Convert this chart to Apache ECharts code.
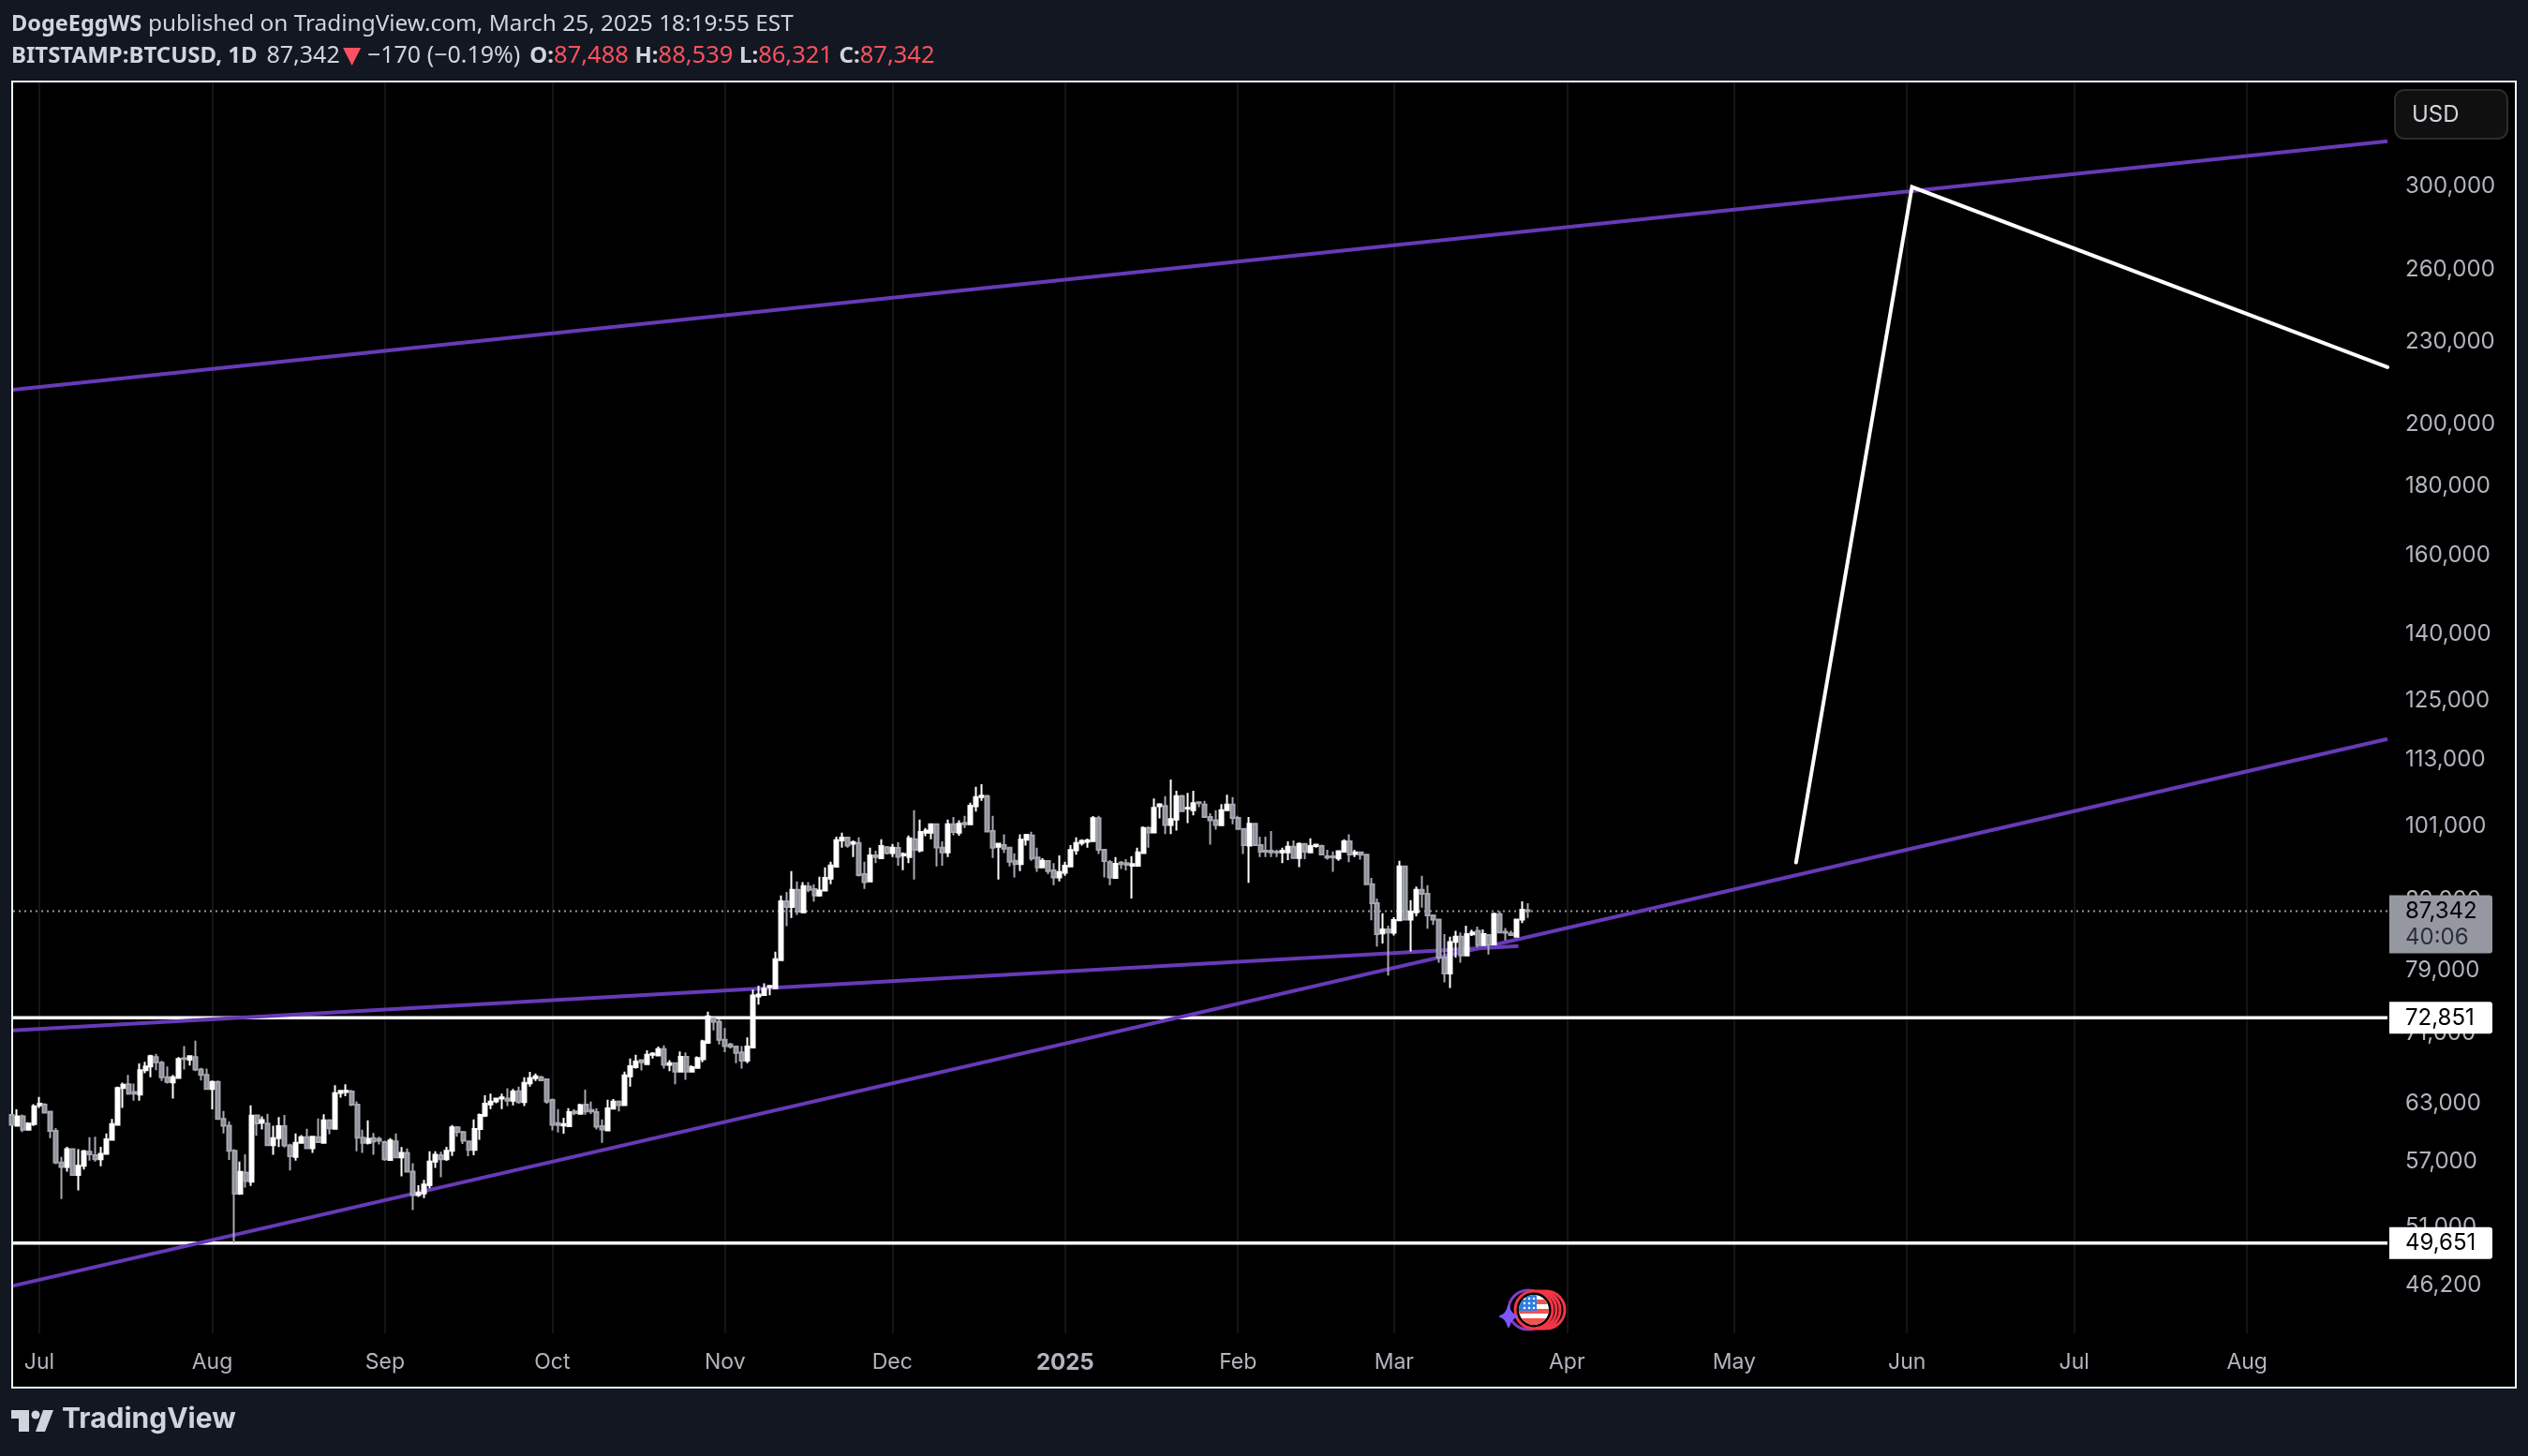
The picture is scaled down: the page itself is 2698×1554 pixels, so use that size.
<!DOCTYPE html>
<html lang="en">
  <head>
    <meta charset="utf-8" />
    <title>BITSTAMP:BTCUSD, 1D</title>
    <script src="https://cdn.jsdelivr.net/npm/echarts@6/dist/echarts.min.js"></script>
    <style>
      html, body { margin: 0; padding: 0; background: #131722; }
      #chart { width: 2698px; height: 1554px; }
    </style>
  </head>
  <body>
    <div id="chart"></div>
    <script>
      // Daily candles, day 0 is 2024-06-26, day 272 is 2025-03-25
      const opens = [
        61760,60630,61600,60210,60790,62760,62830,62100,60090,56940,
        56520,58250,55750,56640,58010,57650,57260,57800,59190,60730,
        64650,65060,64200,63930,66640,67060,68140,67490,65830,65270,
        65760,67990,67850,68140,66710,66110,64550,65310,61340,60630,
        58100,54000,55980,55120,61700,60950,60850,58660,59350,60570,
        58630,57500,58880,59450,58350,59450,58880,61180,60310,64100,
        64200,64270,62830,59410,58880,59350,59290,58970,57200,59030,
        57440,57890,56070,53880,54030,54800,57040,57650,57260,58100,
        60470,59990,59030,58200,60280,61670,62870,63190,63490,63490,
        63260,64290,63110,65170,65740,65840,65600,63350,60900,60640,
        60570,62110,61880,62840,62270,62040,60570,60150,62410,63180,
        62780,65950,66970,67790,67320,68400,68330,69070,67260,67430,
        66470,68160,66470,66900,67900,69800,72760,72370,70180,69620,
        69360,68690,67720,69250,75550,75720,76750,76620,80360,88820,
        87960,90570,87170,91060,90670,89710,90470,92310,94200,98500,
        98980,97970,98080,93010,91880,96020,95570,97400,96430,97250,
        96020,95770,98720,96830,99830,99830,101240,97300,96540,101240,
        99830,101500,101240,104400,106030,106200,100080,97450,97720,97300,
        95150,94620,98620,99350,95670,94100,95110,93600,92510,93250,
        94240,96860,98080,98290,98400,102330,96970,94910,92410,94860,
        94760,94370,94370,96430,100600,99870,104410,104460,101140,102090,
        106200,103980,103710,105110,104690,102510,101950,101080,103710,104690,
        102350,100470,97660,101350,97720,96790,96790,96640,96540,96540,
        97450,95620,97920,96540,97560,97560,95880,95880,95520,96640,
        98340,96280,96540,96130,91440,88530,84100,84680,84190,85980,
        94240,86110,87170,90570,89950,86710,86110,80710,78560,82890,
        83640,81010,83960,84450,82450,83860,82540,86890,84320,84090,
        83640,86110,87488
      ]
      const closes = [
        60730,61600,60210,60850,62660,62930,62000,60090,56940,56520,
        58250,55750,56640,58040,57740,57260,57800,59250,60790,64650,
        65000,64030,64030,66640,67060,68250,67530,65830,65310,65830,
        67920,67920,68250,66710,66110,64550,65310,61340,60630,58100,
        54000,56040,55180,61670,60880,61210,58660,59350,60570,58630,
        57560,58880,59450,58350,59510,58970,61180,60370,64070,64340,
        64340,62830,59410,58880,59290,59030,59100,57260,59130,57440,
        57890,56070,53880,54080,54860,57040,57710,57260,58100,60470,
        59990,59100,58200,60280,61760,62930,63160,63490,63620,63260,
        64270,63110,65220,65740,65950,65500,63180,60730,60700,60800,
        62040,61940,62780,62110,62110,60540,60250,62440,63180,62780,
        66050,67080,67610,67540,68400,68540,69070,67260,67430,66470,
        68160,66470,66970,68040,69990,73030,72370,70180,69430,69360,
        68620,67720,69360,75680,75800,76540,76910,80480,88820,87960,
        90570,87260,91140,90570,89710,90470,92410,94400,98560,98980,
        97660,98190,92860,91780,96020,95770,97560,96430,97300,95820,
        96280,98880,96940,99930,100190,101240,97350,96540,101240,99930,
        101350,101240,104500,106030,106300,100030,97300,97950,97150,95010,
        94620,98620,99450,95520,94100,95150,93500,92510,93350,94370,
        96910,98080,98450,98500,102330,96970,95110,92510,94660,94620,
        94500,94620,96540,100600,99870,104140,104740,101140,102170,106200,
        103560,104140,104970,104970,102510,101950,101140,103710,104690,102350,
        100470,97720,101350,97720,96640,96640,96540,96540,96790,97450,
        95620,97920,96640,97560,97820,96180,95670,95720,96740,98340,
        96180,96540,96130,91440,88530,84000,84680,84230,86020,94240,
        86110,87260,90570,89950,86710,86110,80710,78560,82850,83640,
        81010,84000,84230,82450,84000,82540,86930,84230,84190,83860,
        86110,87550,87342
      ]
      const lows = [
        60600,60550,59990,60150,60600,62500,61950,59350,56800,53510,
        56070,55700,54310,56280,57130,57040,56580,57700,59100,60650,
        62500,63900,63260,63260,66300,65830,66640,65410,65130,63490,
        65700,66710,67170,66530,65480,64500,62330,61300,59830,57190,
        49650,53900,54570,54720,59600,60240,58600,57710,58470,58410,
        56190,57130,58800,58300,57890,58880,58800,59770,60250,63600,
        63760,62700,58040,57890,58720,57710,58720,57100,57150,57400,
        55630,56000,52520,53700,53600,54510,56430,55540,57100,57590,
        59510,58760,57560,57650,59190,61530,62360,63000,62360,62690,
        62760,62950,62680,64800,65430,65430,62950,60150,59920,59820,
        60500,61720,61800,61780,61850,60250,58900,60050,62350,62110,
        62700,64800,66820,66610,67300,67970,68300,66820,66540,65050,
        66400,65560,66360,66850,67540,69730,71300,69620,68720,69130,
        67430,66820,67430,69200,74490,75650,75700,76500,80300,85130,
        86340,86800,87100,90190,88770,89520,90400,91440,94150,97300,
        97300,95770,92660,90710,91780,94760,95520,96200,95770,94370,
        93650,94760,92170,96540,99240,98720,94240,94370,95770,99400,
        99300,100600,101100,103450,105360,99900,95620,92170,96430,94240,
        92510,93500,97660,95150,93400,94000,93010,91300,91880,92760,
        94100,96130,97660,97300,98300,96280,92510,91300,92300,93850,
        93600,89240,94300,96400,97300,99800,102270,99560,99560,100190,
        103500,101460,102800,104250,102400,97820,100350,101000,103600,101240,
        100300,96280,91640,97600,95770,95770,95770,95770,94760,95270,
        95500,94130,95420,96430,97300,96100,95360,93400,95150,96600,
        94910,95770,95360,91300,85980,82240,82680,78270,83780,85900,
        86000,81570,86570,87870,84760,85310,80010,77360,76630,80710,
        80010,80900,83730,82100,82400,81140,82500,84100,83110,83730,
        83500,85580,86321
      ]
      const highs = [
        61900,62330,61800,61000,62900,63680,63000,62200,60380,57500,
        58500,58350,58250,58200,59450,59510,58500,59830,61340,64800,
        65250,66110,65130,67420,67600,68400,68510,67700,67060,66110,
        68140,69420,68300,70060,66890,66820,65480,65480,62170,61100,
        58250,57040,57740,62760,61800,61600,61860,60630,61530,61760,
        58800,59830,59670,60310,59600,61370,61830,61300,64960,64440,
        65060,64440,63190,60210,61180,59890,59510,59100,59350,59830,
        58470,58320,56880,54800,55300,58040,58040,58000,58500,60700,
        60570,60100,59100,61280,61900,63860,64030,63600,64030,64620,
        64550,64800,65840,66440,66270,66010,65700,63500,62370,61460,
        62470,62370,62950,64460,63180,62440,61290,63380,63450,63300,
        66470,67970,68400,67900,68930,68720,69360,69500,67790,67500,
        68800,68690,67180,68230,70180,73600,72920,72640,71600,69800,
        69400,69430,70470,76420,76950,77240,77000,81530,89710,90230,
        93500,91880,91780,91780,91440,92610,94100,95010,99150,99810,
        99100,98500,99040,95010,97300,96790,98720,97560,97920,98230,
        96540,99360,103710,102060,100600,101400,101350,98340,102060,102500,
        101950,102720,105050,107930,108380,106460,102720,98080,99520,97400,
        96380,99520,99520,99970,97300,95570,95200,94760,96020,95010,
        97720,99040,98720,98820,102670,102720,97100,95270,95770,95110,
        95420,95920,97300,100900,100900,105800,104970,106210,109260,107200,
        106480,106810,107200,105220,105380,103180,103710,104800,106480,106040,
        102720,100600,102500,101500,99150,99150,100090,96940,97300,98340,
        98500,98190,98080,98880,97920,97820,96940,96690,96890,98720,
        99520,96940,96690,96280,92410,89240,87030,85220,86430,95160,
        94370,89000,91060,92760,91300,86800,86200,84000,83640,84450,
        84230,85220,84640,85090,84680,83950,87120,87350,84860,84500,
        86230,88820,88539
      ]

      // Axes
      const monthTicks = [5, 36, 67, 97, 128, 158, 189, 220, 248, 279, 309, 340, 370, 401]
      const monthLabels = ['Jul', 'Aug', 'Sep', 'Oct', 'Nov', 'Dec', '2025', 'Feb', 'Mar', 'Apr', 'May', 'Jun', 'Jul', 'Aug']
      const priceTicks = [300000, 260000, 230000, 200000, 180000, 160000, 140000, 125000, 113000, 101000, 89000, 79000, 71000, 63000, 57000, 51000, 46200]
      const dayMin = 0.294
      const dayMax = 426.18
      const priceMin = 42590
      const priceMax = 357780

      // Drawings, as [day, price]
      const channelTop = [[dayMin, 212100], [dayMax, 323740]]
      const channelBottom = [[dayMin, 46170], [dayMax, 117060]]
      const neckline = [[dayMin, 71300], [270.3, 82300]]
      const forecast = [[320.1, 94900], [340.9, 299500], [dayMax, 220400]]
      const upperLevel = 72851
      const lowerLevel = 49651
      const lastPrice = 87342
      const countdown = '40:06'

      const fmt = (v) => v.toLocaleString('en-US')
      const AXIS_FONT = 'Inter'

      const flagIcon = 'data:image/svg+xml,' + encodeURIComponent(
        '<svg xmlns="http://www.w3.org/2000/svg" width="72" height="48" viewBox="0 0 72 48">' +
        '<defs><clipPath id="c"><circle cx="37" cy="24" r="16"/></clipPath></defs>' +
        '<circle cx="31" cy="24" r="21" fill="none" stroke="#7e3fc8" stroke-width="3"/>' +
        '<circle cx="50" cy="24" r="20" fill="#000" stroke="#f23645" stroke-width="3"/>' +
        '<circle cx="45" cy="24" r="20" fill="#000" stroke="#f23645" stroke-width="3"/>' +
        '<circle cx="41" cy="24" r="20" fill="#000" stroke="#f23645" stroke-width="3"/>' +
        '<circle cx="37" cy="24" r="20" fill="#000" stroke="#f23645" stroke-width="3"/>' +
        '<g clip-path="url(#c)"><rect x="20" y="8" width="34" height="32" fill="#fff"/>' +
        '<rect x="20" y="13" width="34" height="5" fill="#f05350"/><rect x="20" y="23" width="34" height="5" fill="#f05350"/>' +
        '<rect x="20" y="33" width="34" height="7" fill="#f05350"/><rect x="20" y="8" width="20" height="17" fill="#2a7de1"/>' +
        '<g fill="#fff"><circle cx="27" cy="12" r="1.3"/><circle cx="32" cy="12" r="1.3"/><circle cx="37" cy="12" r="1.3"/>' +
        '<circle cx="27" cy="17" r="1.3"/><circle cx="32" cy="17" r="1.3"/><circle cx="37" cy="17" r="1.3"/>' +
        '<circle cx="27" cy="22" r="1.3"/><circle cx="32" cy="22" r="1.3"/><circle cx="37" cy="22" r="1.3"/></g></g>' +
        '<path d="M10 20 Q12 29 19 31 Q12 33 10 42 Q8 33 1 31 Q8 29 10 20Z" fill="#7e57ff" stroke="#7e57ff" stroke-width="2" stroke-linejoin="round"/>' +
        '</svg>')

      const levelLine = (value, label, z) => ({
        type: 'line', z: z, silent: true, symbol: 'none', animation: false,
        data: [[dayMin, value], [dayMax, value]],
        lineStyle: { color: '#ffffff', width: 3.5, cap: 'butt' },
        endLabel: {
          show: true, formatter: label, distance: 2, color: '#000', fontFamily: AXIS_FONT, fontSize: 24,
          backgroundColor: '#ffffff', borderRadius: [0, 3, 3, 0], width: 80, align: 'left',
          padding: [4, 13, 4, 17], lineHeight: 26
        }
      })
      const purpleLine = (data) => ({
        type: 'line', z: 2, silent: true, symbol: 'none', animation: false, data: data,
        lineStyle: { color: '#673ab7', width: 4, cap: 'butt' }
      })

      window.onload = function () {
        const chart = echarts.init(document.getElementById('chart'), null, { renderer: 'canvas' })
        chart.setOption({
          animation: false,
          backgroundColor: '#131722',
          grid: { left: 14, right: 150, top: 88, bottom: 131, containLabel: false },
          xAxis: {
            type: 'value', min: dayMin, max: dayMax, z: 0,
            axisLine: { show: false },
            axisTick: { show: false, customValues: monthTicks },
            splitLine: { show: true, lineStyle: { color: '#151515', width: 2 } },
            axisLabel: {
              customValues: monthTicks, margin: 20, color: '#b2b5be', fontFamily: AXIS_FONT, fontSize: 23,
              formatter: (v) => {
                const text = monthLabels[monthTicks.indexOf(v)]
                return text === '2025' ? '{y|2025}' : text
              },
              rich: { y: { fontWeight: 'bold', fontFamily: AXIS_FONT, fontSize: 24, color: '#b2b5be' } }
            }
          },
          yAxis: {
            type: 'log', logBase: 10, min: priceMin, max: priceMax, position: 'right', z: 0,
            axisLine: { show: false },
            axisTick: { show: false },
            splitLine: { show: false },
            axisLabel: {
              customValues: priceTicks, margin: 19, align: 'left', color: '#b2b5be',
              fontFamily: AXIS_FONT, fontSize: 24, formatter: (v) => fmt(v)
            }
          },
          series: [
            {
              type: 'line', z: 1, silent: true, symbol: 'none', animation: false,
              data: [[dayMin, lastPrice], [dayMax, lastPrice]],
              lineStyle: { color: '#9598a1', width: 2, type: [2, 4], cap: 'butt' },
              endLabel: {
                show: true, distance: 2, align: 'left',
                formatter: '{p|' + fmt(lastPrice) + '}\n{t|' + countdown + '}',
                backgroundColor: '#9598a1', borderRadius: [0, 3, 3, 0], offset: [0, 14],
                padding: [3, 13, 3, 17], width: 80,
                rich: {
                  p: { color: '#000', fontFamily: AXIS_FONT, fontSize: 24, lineHeight: 28, width: 80, align: 'left' },
                  t: { color: '#2a2e39', fontFamily: AXIS_FONT, fontSize: 24, lineHeight: 28, width: 80, align: 'left' }
                }
              }
            },
            levelLine(upperLevel, fmt(upperLevel), 1),
            levelLine(lowerLevel, fmt(lowerLevel), 1),
            purpleLine(channelTop),
            purpleLine(channelBottom),
            purpleLine(neckline),
            {
              type: 'candlestick', z: 3, silent: true, barWidth: 4.5, clip: true, animation: false,
              data: opens.map((o, i) => [i, o, closes[i], lows[i], highs[i]]),
              itemStyle: { color: '#ffffff', borderColor: '#ffffff', color0: '#8a8d96', borderColor0: '#a6a9b2', borderWidth: 2 }
            },
            {
              type: 'line', z: 4, silent: true, symbol: 'none', animation: false, data: forecast,
              lineStyle: { color: '#ffffff', width: 4, cap: 'round', join: 'miter' }
            }
          ],
          graphic: [
            { type: 'rect', silent: true, z: -10, shape: { x: 13, y: 87, width: 2672, height: 1394 }, style: { fill: '#000', stroke: '#f0f3fa', lineWidth: 2 } },
            {
              type: 'text', silent: true, z: 10, x: 12, y: 14,
              style: {
                text: '{b|DogeEggWS}  {n|published on TradingView.com, March 25, 2025 18:19:55 EST}',
                rich: {
                  b: { fontFamily: 'Noto Sans', fontWeight: 'bold', fontSize: 23.5, fill: '#d1d4dc' },
                  n: { fontFamily: 'Noto Sans', fontSize: 24.4, fill: '#d1d4dc' }
                }
              }
            },
            {
              type: 'text', silent: true, z: 10, x: 12, y: 47,
              style: {
                text: '{b|BITSTAMP:BTCUSD, 1D}   {n|87,342} {t|▼}  {n|−170 (−0.19%)}   {b|O:}{r|87,488}  {b|H:}{r|88,539}  {b|L:}{r|86,321}  {b|C:}{r|87,342}',
                rich: {
                  b: { fontFamily: 'Noto Sans', fontWeight: 'bold', fontSize: 24, fill: '#d1d4dc' },
                  n: { fontFamily: 'Noto Sans', fontSize: 25, fill: '#d1d4dc' },
                  r: { fontFamily: 'Noto Sans', fontSize: 25.5, fill: '#f7525f' },
                  t: { fontFamily: 'DejaVu Sans', fontSize: 25, fill: '#f7525f' }
                }
              }
            },
            { type: 'rect', silent: true, z: 10, shape: { x: 2556, y: 96, width: 120, height: 52, r: 10 }, style: { fill: '#101010', stroke: '#2c2c2c', lineWidth: 2 } },
            { type: 'text', silent: true, z: 11, x: 2574, y: 111, style: { text: 'USD', fontFamily: AXIS_FONT, fontSize: 24, fill: '#d1d4dc' } },
            { type: 'image', silent: true, z: 10, style: { image: flagIcon, x: 1600, y: 1374, width: 72, height: 48 } },
            // logo
            { type: 'polygon', silent: true, z: 10, shape: { points: [[12, 1505], [31, 1505], [31, 1528], [20, 1528], [20, 1514], [12, 1514]] }, style: { fill: '#d1d4dc' } },
            { type: 'circle', silent: true, z: 10, shape: { cx: 38, cy: 1510, r: 4.5 }, style: { fill: '#d1d4dc' } },
            { type: 'polygon', silent: true, z: 10, shape: { points: [[46, 1505], [57, 1505], [48, 1528], [38, 1528]] }, style: { fill: '#d1d4dc' } },
            { type: 'text', silent: true, z: 10, x: 66, y: 1500, style: { text: 'TradingView', fontFamily: 'Inter', fontWeight: 700, fontSize: 30, fill: '#d1d4dc' } }
          ]
        })
      }
    </script>
  </body>
</html>
